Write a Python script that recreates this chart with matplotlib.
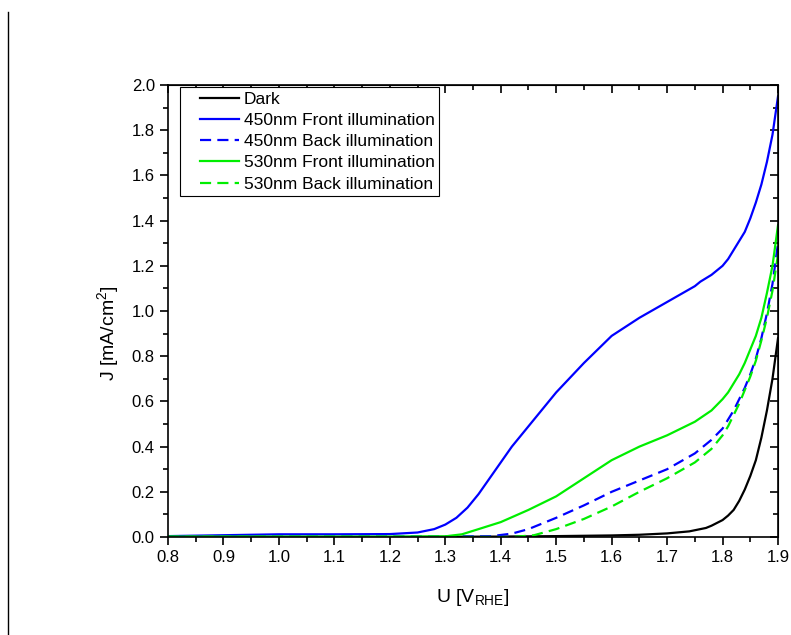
import matplotlib.pyplot as plt
from matplotlib.lines import Line2D
from matplotlib.legend_handler import HandlerLine2D
from matplotlib.ticker import MultipleLocator

plt.rcParams['font.family'] = ['Liberation Sans', 'DejaVu Sans']

# %% J-U curves (mA/cm2 vs V_RHE)
u_dark = [0.8, 1.0, 1.2, 1.4, 1.5, 1.6, 1.65, 1.7, 1.74, 1.77, 1.78, 1.8, 1.81, 1.82, 1.83, 1.84, 1.85,
          1.86, 1.87, 1.88, 1.89, 1.9]
j_dark = [0.0, 0.0, 0.0, 0.002, 0.004, 0.007, 0.01, 0.016, 0.025, 0.04, 0.05, 0.075, 0.095, 0.12, 0.16, 0.21, 0.27,
          0.34, 0.44, 0.56, 0.70, 0.88]

u_450f = [0.8, 0.9, 1.0, 1.1, 1.2, 1.25, 1.26, 1.28, 1.3, 1.32, 1.34, 1.36, 1.38, 1.4, 1.42, 1.45, 1.47,
          1.5, 1.55, 1.6, 1.65, 1.7, 1.75, 1.76, 1.78, 1.79, 1.8, 1.81, 1.82, 1.83, 1.84, 1.85,
          1.86, 1.87, 1.88, 1.89, 1.9]
j_450f = [0.004, 0.008, 0.012, 0.012, 0.013, 0.02, 0.025, 0.035, 0.055, 0.085, 0.13, 0.19, 0.26, 0.33, 0.40, 0.49, 0.55,
          0.64, 0.77, 0.89, 0.97, 1.04, 1.11, 1.13, 1.16, 1.18, 1.2, 1.23, 1.27, 1.31, 1.35, 1.41,
          1.48, 1.56, 1.66, 1.78, 1.95]

u_450b = [0.8, 1.0, 1.2, 1.38, 1.42, 1.45, 1.5, 1.55, 1.6, 1.65, 1.7, 1.75, 1.78, 1.8, 1.81, 1.82, 1.83,
          1.84, 1.85, 1.86, 1.87, 1.88, 1.89, 1.9]
j_450b = [0.002, 0.002, 0.002, 0.003, 0.015, 0.035, 0.085, 0.14, 0.2, 0.25, 0.3, 0.37, 0.43, 0.48, 0.52, 0.56, 0.61,
          0.66, 0.72, 0.79, 0.88, 0.99, 1.12, 1.3]

u_530f = [0.8, 1.0, 1.2, 1.3, 1.33, 1.36, 1.4, 1.45, 1.5, 1.55, 1.6, 1.65, 1.7, 1.75, 1.78,
          1.8, 1.81, 1.82, 1.83, 1.84, 1.85, 1.86, 1.87, 1.88, 1.89, 1.9]
j_530f = [0.002, 0.002, 0.002, 0.003, 0.012, 0.035, 0.066, 0.12, 0.18, 0.26, 0.34, 0.4, 0.45, 0.51, 0.56,
          0.61, 0.64, 0.68, 0.72, 0.77, 0.83, 0.89, 0.97, 1.08, 1.2, 1.38]

u_530b = [0.8, 1.0, 1.2, 1.42, 1.46, 1.5, 1.55, 1.6, 1.65, 1.7, 1.75, 1.78, 1.8, 1.81, 1.82, 1.83,
          1.84, 1.85, 1.86, 1.87, 1.88, 1.89, 1.9]
j_530b = [0.001, 0.001, 0.001, 0.0, 0.008, 0.035, 0.08, 0.135, 0.2, 0.26, 0.33, 0.39, 0.45, 0.49, 0.54, 0.59,
          0.65, 0.71, 0.78, 0.87, 0.97, 1.09, 1.25]


class PaddedLine(HandlerLine2D):
    # legend line that starts a bit in from the frame edge
    def get_xdata(self, legend, xdescent, ydescent, width, height, fontsize):
        xdata, xm = super().get_xdata(legend, xdescent, ydescent, width, height, fontsize)
        return [xdata[0] + 10.8, xdata[-1]], xm


# %% plot
fig = plt.figure(figsize=(7.91, 6.35), dpi=100)
ax = fig.add_axes([0.2124, 0.1543, 0.7712, 0.7118])

lw = 1.6
dash = (0, (5, 2.8))
ax.plot(u_dark, j_dark, color='black', lw=lw, label='Dark')
ax.plot(u_450f, j_450f, color='#0000ff', lw=lw, label='450nm Front illumination')
ax.plot(u_450b, j_450b, color='#0000ff', lw=lw, ls=dash, label='450nm Back illumination')
ax.plot(u_530f, j_530f, color='#00ee00', lw=lw, label='530nm Front illumination')
ax.plot(u_530b, j_530b, color='#00ee00', lw=lw, ls=dash, label='530nm Back illumination')

ax.set_xlim(0.8, 1.9)
ax.set_ylim(0.0, 2.0)
ax.xaxis.set_major_locator(MultipleLocator(0.1))
ax.xaxis.set_minor_locator(MultipleLocator(0.05))
ax.yaxis.set_major_locator(MultipleLocator(0.2))
ax.yaxis.set_minor_locator(MultipleLocator(0.1))
ax.xaxis.set_major_formatter(plt.FormatStrFormatter('%.1f'))
ax.yaxis.set_major_formatter(plt.FormatStrFormatter('%.1f'))

ax.tick_params(which='both', direction='out', width=1.2, labelsize=12)
ax.tick_params(which='major', length=6)
ax.tick_params(which='minor', length=3.5)

# inward ticks on top and right
axt = ax.secondary_xaxis('top')
axt.xaxis.set_major_locator(MultipleLocator(0.1))
axt.xaxis.set_minor_locator(MultipleLocator(0.05))
axt.tick_params(which='both', direction='in', width=1.2, labeltop=False)
axt.tick_params(which='major', length=6)
axt.tick_params(which='minor', length=3.5)
axr = ax.secondary_yaxis('right')
axr.yaxis.set_major_locator(MultipleLocator(0.2))
axr.yaxis.set_minor_locator(MultipleLocator(0.1))
axr.tick_params(which='both', direction='in', width=1.2, labelright=False)
axr.tick_params(which='major', length=6)
axr.tick_params(which='minor', length=3.5)

for sp in ax.spines.values():
    sp.set_linewidth(1.2)

ax.set_xlabel('U [V$_{\\mathregular{RHE}}$]', fontsize=14, labelpad=16)
ax.set_ylabel('J [mA/cm$^{\\mathregular{2}}$]', fontsize=14)
ax.yaxis.set_label_coords(-0.075, 0.45)

leg = ax.legend(loc='upper left', bbox_to_anchor=(0.02, 0.995), borderaxespad=0,
                fontsize=12.5, handlelength=3.11, handletextpad=0.29, labelspacing=0.35,
                fancybox=False, edgecolor='black', framealpha=1, borderpad=0.25,
                handler_map={Line2D: PaddedLine()})
leg.get_frame().set_linewidth(0.8)

# thin vertical rule at the left edge
fig.add_artist(Line2D([7.5 / 791, 7.5 / 791], [0, 1 - 12 / 635], transform=fig.transFigure,
                      color='black', lw=1.0))

fig.savefig('out.png', dpi=100)
